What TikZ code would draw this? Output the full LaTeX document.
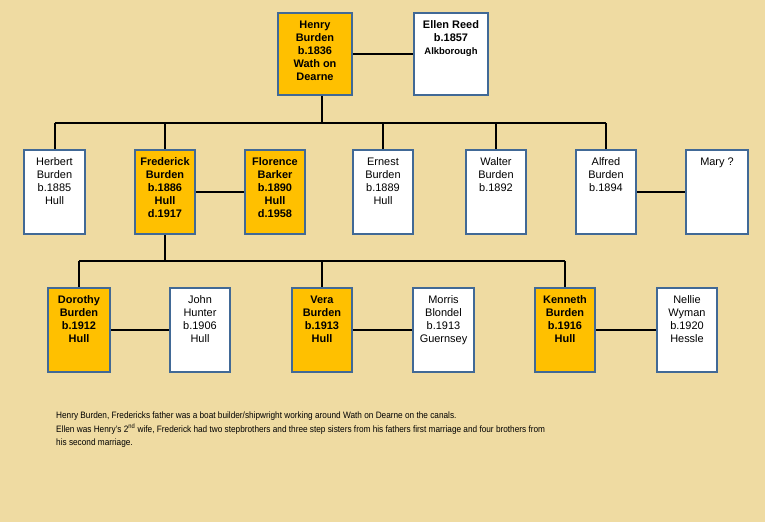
\documentclass[tikz,border=0pt]{standalone}
\usepackage{fontspec}
\setmainfont{Liberation Sans}
\newfontfamily\storyfont[FakeStretch=0.89]{Liberation Sans}
\usetikzlibrary{positioning}
\definecolor{parchment}{RGB}{239,219,162}
\definecolor{boxgold}{RGB}{255,192,0}
\definecolor{boxedge}{RGB}{65,105,150}
\tikzset{
  person/.style={rectangle, draw=boxedge, line width=2bp, fill=white, inner sep=0pt, anchor=north west,
    font=\fontsize{11}{13}\selectfont},
  blood/.style={person, fill=boxgold, font=\fontsize{11}{13}\selectfont\bfseries},
  link/.style={draw=black, line width=2.6bp},
  branch/.style={draw=black, line width=2bp},
  note/.style={anchor=north west, align=left, inner sep=0pt, font=\storyfont\fontsize{9.3}{13.2}\selectfont}
}
% card: width, height, lines
\newcommand{\card}[3]{\parbox[t][#2][t]{#1}{\centering\rule{0pt}{15.5bp}#3}}

\begin{document}
\begin{tikzpicture}[x=1bp, y=-1bp]
  \fill[parchment] (0,0) rectangle (765,522);
  \useasboundingbox (0,0) rectangle (765,522);

  % first generation
  \node[blood] (henry) at (277,12) {\card{74bp}{82bp}{Henry\\Burden\\b.1836\\Wath on\\Dearne}};
  \node[person, font=\fontsize{11}{13}\selectfont\bfseries] (ellen) at (413,12)
    {\card{74bp}{82bp}{Ellen Reed\\b.1857\\{\fontsize{9.5}{12}\selectfont Alkborough}}};

  % second generation
  \node[person] (herbert) at (23,149) {\card{61bp}{84bp}{Herbert\\Burden\\b.1885\\Hull}};
  \node[blood] (frederick) at (134,149) {\card{60bp}{84bp}{Frederick\\Burden\\b.1886\\Hull\\d.1917}};
  \node[blood] (florence) at (244,149) {\card{60bp}{84bp}{Florence\\Barker\\b.1890\\Hull\\d.1958}};
  \node[person] (ernest) at (352,149) {\card{60bp}{84bp}{Ernest\\Burden\\b.1889\\Hull}};
  \node[person] (walter) at (465,149) {\card{60bp}{84bp}{Walter\\Burden\\b.1892}};
  \node[person] (alfred) at (575,149) {\card{60bp}{84bp}{Alfred\\Burden\\b.1894}};
  \node[person] (mary) at (685,149) {\card{62bp}{84bp}{Mary ?}};

  % third generation
  \node[blood] (dorothy) at (47,287) {\card{62bp}{84bp}{Dorothy\\Burden\\b.1912\\Hull}};
  \node[person] (john) at (169,287) {\card{60bp}{84bp}{John\\Hunter\\b.1906\\Hull}};
  \node[blood] (vera) at (291,287) {\card{60bp}{84bp}{Vera\\Burden\\b.1913\\Hull}};
  \node[person] (morris) at (412,287) {\card{61bp}{84bp}{Morris\\Blondel\\b.1913\\Guernsey}};
  \node[blood] (kenneth) at (534,287) {\card{60bp}{84bp}{Kenneth\\Burden\\b.1916\\Hull}};
  \node[person] (nellie) at (656,287) {\card{60bp}{84bp}{Nellie\\Wyman\\b.1920\\Hessle}};

  % marriages
  \draw[link] (henry) -- (ellen);
  \draw[link] (frederick) -- (florence);
  \draw[link] (alfred) -- (mary);
  \draw[link] (dorothy) -- (john);
  \draw[link] (vera) -- (morris);
  \draw[link] (kenneth) -- (nellie);

  % descent
  \coordinate (bus1) at (0,123);
  \coordinate (bus2) at (0,261);
  \draw[branch] ([xshift=7bp]henry.south) -- ([xshift=7bp]henry.south |- bus1);
  \draw[branch] (herbert.north |- bus1) -- (alfred.north |- bus1);
  \foreach \kid in {herbert,frederick,ernest,walter,alfred}
    \draw[branch] (\kid.north |- bus1) -- (\kid.north);
  \draw[branch] (frederick.south) -- (frederick.south |- bus2);
  \draw[branch] (dorothy.north |- bus2) -- (kenneth.north |- bus2);
  \foreach \kid in {dorothy,vera,kenneth}
    \draw[branch] (\kid.north |- bus2) -- (\kid.north);

  \node[note] (story) at (56,412) {Henry Burden, Fredericks father was a boat builder/shipwright working around Wath on Dearne on the canals.\\
    Ellen was Henry’s 2\textsuperscript{nd} wife, Frederick had two stepbrothers and three step sisters from his fathers first marriage and four brothers from\\
    his second marriage.};
\end{tikzpicture}
\end{document}
